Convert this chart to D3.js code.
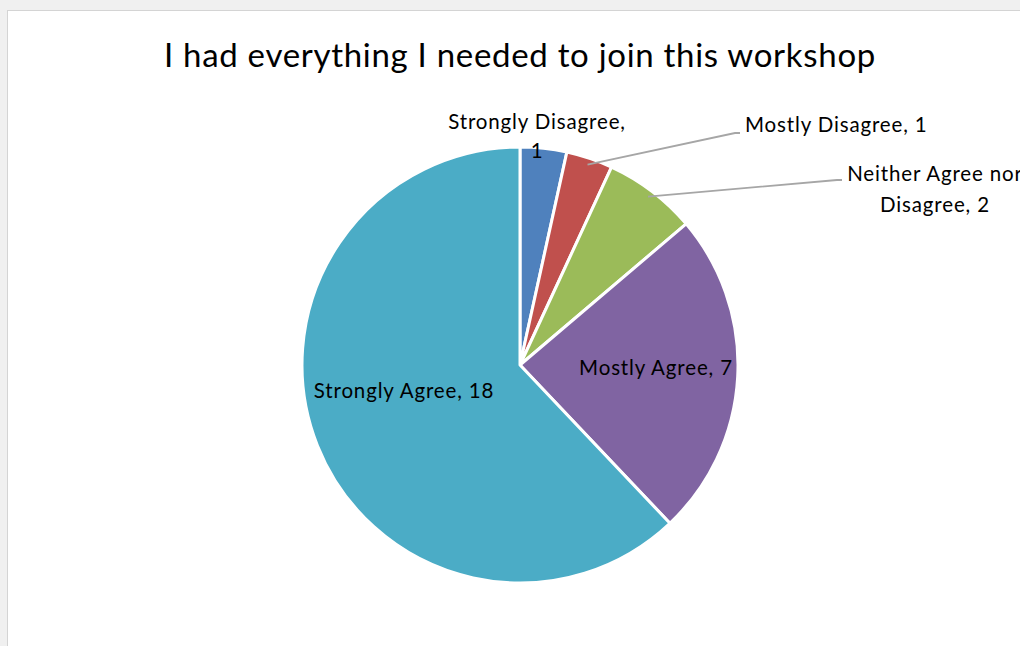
<!DOCTYPE html>
<html>
<head>
<meta charset="utf-8">
<script src="https://cdn.jsdelivr.net/npm/d3@7"></script>
<style>
  html, body { margin: 0; padding: 0; background: #f0f0f0; }
  svg { display: block; }
</style>
</head>
<body>
<svg id="chart" width="1020" height="646"></svg>
<script>
// Survey responses
const categories = ["Strongly Disagree", "Mostly Disagree", "Neither Agree nor Disagree", "Mostly Agree", "Strongly Agree"];
const counts = [1, 1, 2, 7, 18];
const colors = ["#4F81BD", "#C0504D", "#9BBB59", "#8064A2", "#4BACC6"];
const title = "I had everything I needed to join this workshop";

const svg = d3.select("#chart");
const W = 1020, H = 646;
const font = "Lato, 'Open Sans', sans-serif";

// chart area panel
svg.append("rect").attr("x", 7.5).attr("y", 10.5).attr("width", W).attr("height", H)
  .attr("fill", "#ffffff").attr("stroke", "#d4d4d4").attr("stroke-width", 1);

svg.append("text").attr("x", 520).attr("y", 67).attr("text-anchor", "middle")
  .attr("font-family", font).attr("font-size", 33).attr("letter-spacing", 0.7).attr("fill", "#000")
  .text(title);

const cx = 520, cy = 365, R = 218;
const data = categories.map((c, i) => ({ cat: c, value: counts[i], color: colors[i] }));
const pie = d3.pie().value(d => d.value).sort(null);
const arcs = pie(data);
const arc = d3.arc().innerRadius(0).outerRadius(R);

const g = svg.append("g").attr("transform", `translate(${cx},${cy})`);
g.selectAll("path").data(arcs).join("path")
  .attr("d", arc).attr("fill", d => d.data.color)
  .attr("stroke", "#ffffff").attr("stroke-width", 3).attr("stroke-linejoin", "round");

const polar = (a, r) => [r * Math.sin(a), -r * Math.cos(a)];
const mid = d => (d.startAngle + d.endAngle) / 2;

const labelStyle = sel => sel.attr("font-family", font).attr("font-size", 20.5)
  .attr("letter-spacing", 0.85).attr("fill", "#000");

// leader lines for small outside slices
const leaders = [
  { i: 1, end: [220, -232] },
  { i: 2, end: [322, -185] }
];
leaders.forEach(l => {
  const p = polar(mid(arcs[l.i]), R * 0.97);
  g.append("polyline")
    .attr("points", [p, [l.end[0] - 5, l.end[1]], l.end].map(q => q.join(",")).join(" "))
    .attr("fill", "none").attr("stroke", "#a6a6a6").attr("stroke-width", 1.8);
});

// Strongly Disagree (two lines above slice)
const t0 = g.append("text").attr("text-anchor", "middle").call(labelStyle);
t0.append("tspan").attr("x", 17).attr("y", -236).text(categories[0] + ",");
t0.append("tspan").attr("x", 17).attr("y", -207).text(counts[0]);

// Mostly Disagree
g.append("text").attr("x", 225).attr("y", -238).attr("dominant-baseline", "middle")
  .call(labelStyle).text(`${categories[1]}, ${counts[1]}`);

// Neither Agree nor Disagree
const t2 = g.append("text").attr("text-anchor", "middle").call(labelStyle);
t2.append("tspan").attr("x", 415).attr("y", -184).text("Neither Agree nor");
t2.append("tspan").attr("x", 415).attr("y", -153).text("Disagree, " + counts[2]);

// Inside labels
g.append("text").attr("x", 136).attr("y", 10).attr("text-anchor", "middle")
  .call(labelStyle).text(`${categories[3]}, ${counts[3]}`);
g.append("text").attr("x", -116).attr("y", 33).attr("text-anchor", "middle")
  .call(labelStyle).text(`${categories[4]}, ${counts[4]}`);
</script>
</body>
</html>
